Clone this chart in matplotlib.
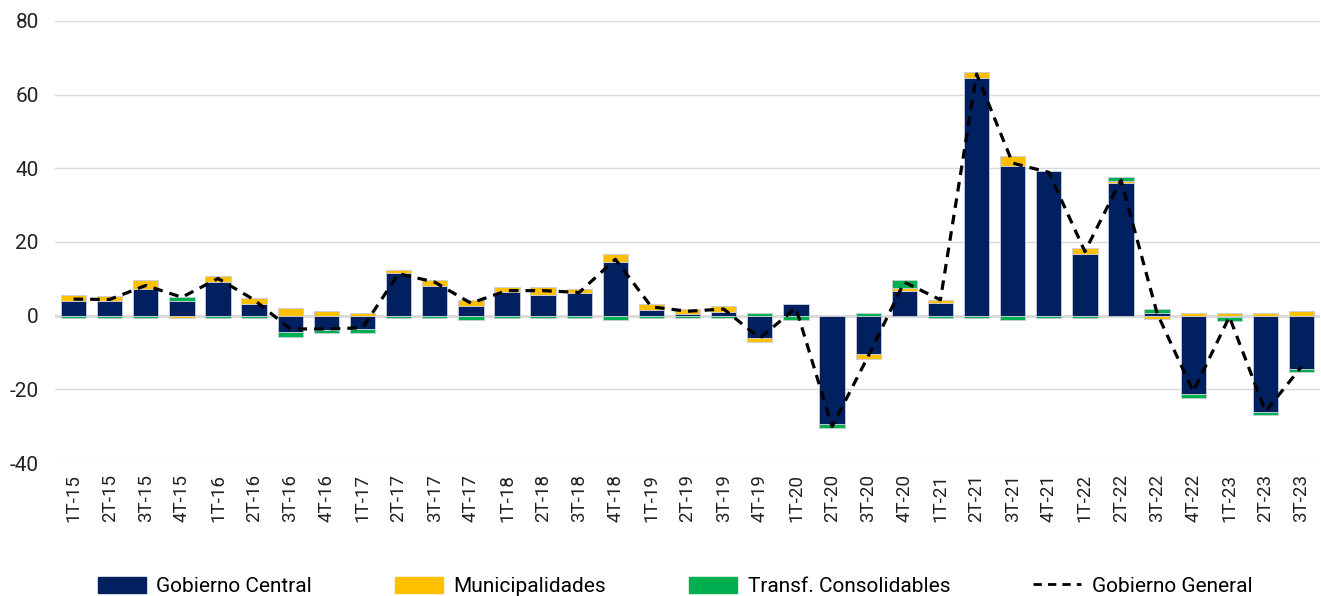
import numpy as np
import matplotlib.pyplot as plt
from matplotlib.lines import Line2D
from matplotlib.patches import Patch

plt.rcParams['font.family'] = ['Roboto', 'DejaVu Sans']
plt.rcParams['axes.unicode_minus'] = False

quarters = ['1T-15', '2T-15', '3T-15', '4T-15', '1T-16', '2T-16', '3T-16', '4T-16',
            '1T-17', '2T-17', '3T-17', '4T-17', '1T-18', '2T-18', '3T-18', '4T-18',
            '1T-19', '2T-19', '3T-19', '4T-19', '1T-20', '2T-20', '3T-20', '4T-20',
            '1T-21', '2T-21', '3T-21', '4T-21', '1T-22', '2T-22', '3T-22', '4T-22',
            '1T-23', '2T-23', '3T-23']

gob_central = [4.1, 4.0, 7.3, 3.9, 9.1, 3.3, -4.4, -4.0,
               -3.7, 11.6, 8.0, 2.7, 6.3, 5.5, 6.2, 14.5,
               1.6, 0.5, 0.9, -6.1, 3.1, -29.4, -10.3, 6.8,
               3.4, 64.4, 40.6, 39.3, 16.8, 35.9, 0.8, -21.3,
               -0.3, -26.1, -14.5]
municipalidades = [1.4, 1.4, 2.3, -0.5, 1.6, 1.5, 2.0, 1.4,
                   0.8, 0.9, 1.6, 1.6, 1.4, 2.2, 1.0, 2.2,
                   1.6, 1.2, 1.8, -1.1, 0.0, 0.0, -1.5, 0.7,
                   0.8, 1.6, 2.7, 0.0, 1.5, 0.6, -0.8, 0.6,
                   0.6, 0.6, 1.3]
transf_consol = [-0.5, -0.5, -0.5, 1.1, -0.5, -0.5, -1.5, -0.7,
                 -1.0, -0.5, -0.5, -1.3, -0.5, -0.5, -0.5, -1.1,
                 -0.5, -0.5, -0.5, 0.7, -1.1, -1.1, 0.7, 2.1,
                 -0.5, -0.5, -1.1, -0.5, -0.5, 1.0, 1.1, -1.0,
                 -1.1, -0.9, -0.9]
gob_general = [4.5, 4.4, 8.2, 5.0, 10.1, 4.3, -3.6, -3.6,
               -3.3, 11.4, 9.1, 3.4, 6.8, 6.8, 6.3, 15.3,
               2.4, 1.2, 1.8, -6.1, 2.1, -30.1, -11.0, 9.1,
               4.3, 65.6, 41.4, 38.9, 17.4, 36.8, 0.6, -20.6,
               -0.3, -26.0, -13.8]

series = [('Gobierno Central', gob_central, '#002060'),
          ('Municipalidades', municipalidades, '#FFC000'),
          ('Transf. Consolidables', transf_consol, '#00B050')]

fig = plt.figure(figsize=(13.21, 5.96), dpi=100)
ax = fig.add_axes([0.042, 0.223, 0.957, 0.742])

x = np.arange(len(quarters))
pos_bottom = np.zeros(len(quarters))
neg_bottom = np.zeros(len(quarters))
for name, vals, color in series:
    vals = np.array(vals)
    bottom = np.where(vals >= 0, pos_bottom, neg_bottom)
    ax.bar(x, vals, 0.7, bottom=bottom, color=color, edgecolor='#c8cdd8',
           linewidth=0.6, zorder=3)
    pos_bottom += np.where(vals >= 0, vals, 0)
    neg_bottom += np.where(vals < 0, vals, 0)

ax.plot(x, gob_general, color='black', linestyle=(0, (3, 2.2)), lw=2.3, zorder=4)

ax.set_ylim(-40, 80)
ax.set_yticks(range(-40, 81, 20))
ax.set_xlim(-0.5, len(quarters) - 0.5)
ax.set_xticks(x)
ax.set_xticklabels(quarters, rotation=90)
ax.yaxis.grid(True, color='#d9d9d9', lw=1, zorder=0)
ax.axhline(0, color='#d9d9d9', lw=2, zorder=1)
for s in ax.spines.values():
    s.set_visible(False)
ax.tick_params(axis='both', length=0, colors='#222222')
ax.tick_params(axis='x', pad=8, labelsize=13.5)
ax.tick_params(axis='y', pad=12, labelsize=15)

handles = [Patch(color=c, label=n) for n, _, c in series]
handles.append(Line2D([0], [0], color='black', linestyle=(0, (3, 2.2)), lw=2, label='Gobierno General'))
fig.legend(handles=handles, loc='center', ncol=4, frameon=False, fontsize=15,
           bbox_to_anchor=(0.511, 0.016), columnspacing=4.0, handlelength=2.3,
           handleheight=0.8, handletextpad=0.5)

fig.savefig('out.png', dpi=100)
